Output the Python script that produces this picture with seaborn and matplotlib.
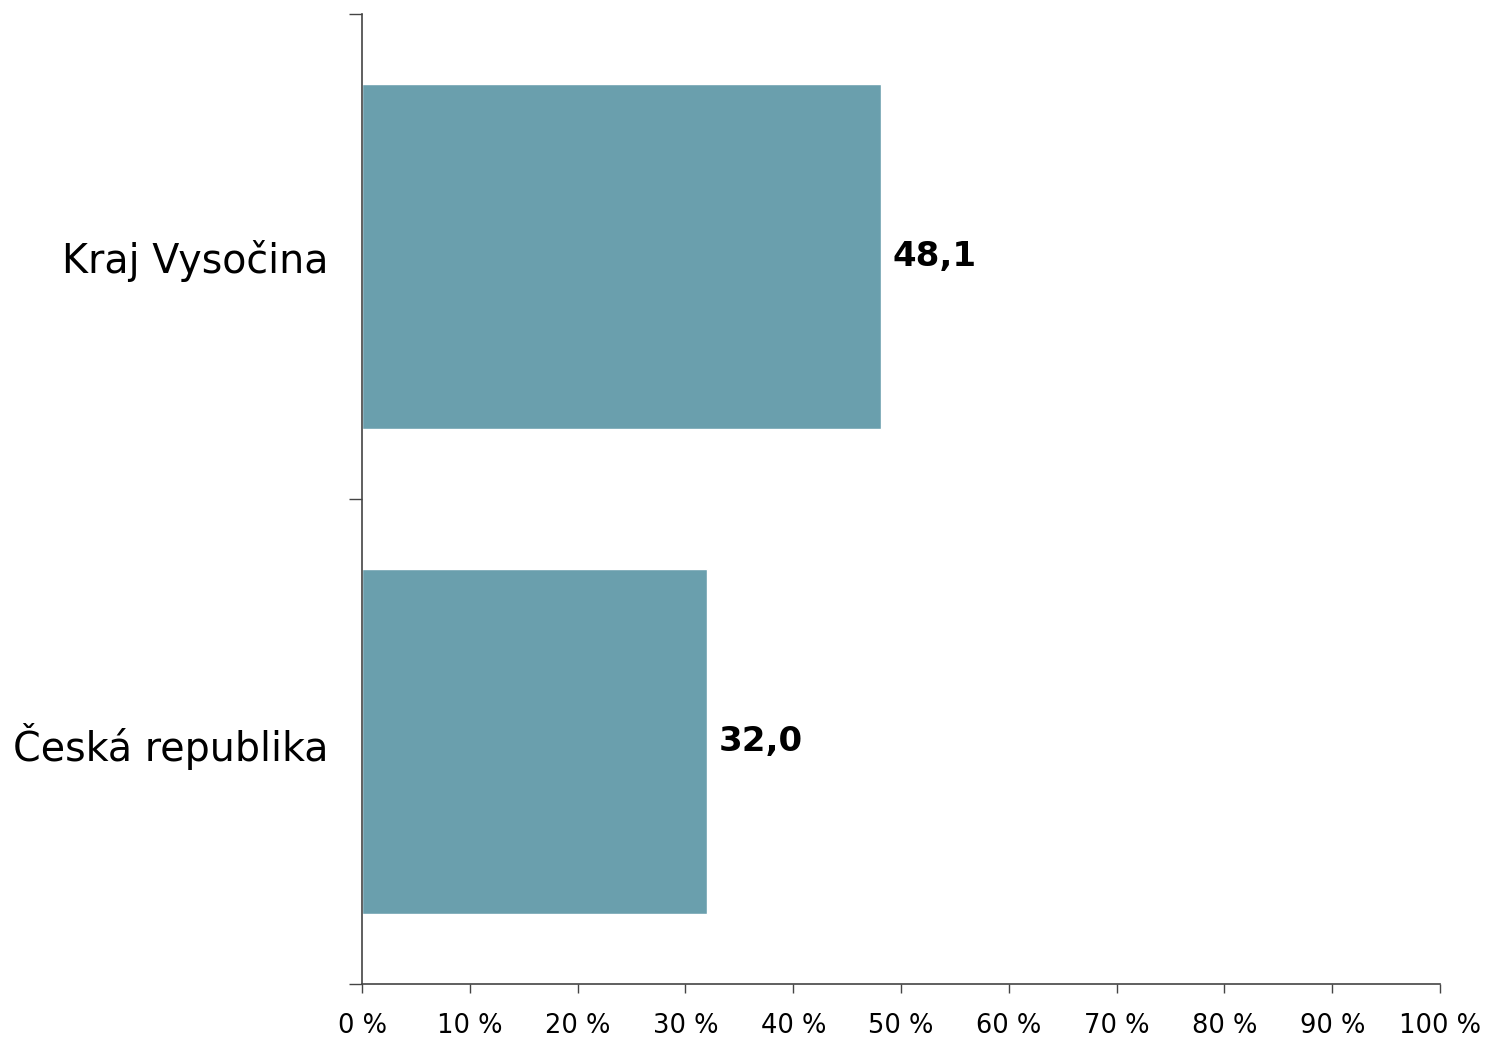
import matplotlib
matplotlib.use("Agg")
import matplotlib.pyplot as plt
import seaborn as sns
import pandas as pd
from matplotlib.ticker import FixedLocator

categories = ["Kraj Vysočina", "Česká republika"]
values = [48.1, 32.0]
value_labels = ["48,1", "32,0"]
xtick_values = [0, 10, 20, 30, 40, 50, 60, 70, 80, 90, 100]
xtick_labels = [f"{v} %" for v in xtick_values]

sns.set_style("white")
plt.rcParams["font.family"] = ["DejaVu Sans"]

df = pd.DataFrame({"cat": categories, "val": values})

fig = plt.figure(figsize=(14.88, 10.38), dpi=100)
ax = fig.add_axes([362/1488, 1-984/1038, (1440-362)/1488, (984-14)/1038])

sns.barplot(data=df, x="val", y="cat", orient="h", color="#6A9FAD",
            saturation=1, width=0.71, ax=ax)

ax.set_xlim(0, 100)
ax.set_ylim(1.5, -0.5)
ax.set_xticks(xtick_values)
ax.set_xticklabels(xtick_labels, fontsize=18.5, color="black")
ax.tick_params(axis="x", direction="out", length=6.5, width=1, color="#444444", pad=14.5, bottom=True)
ax.tick_params(axis="y", which="major", length=0, pad=24, labelsize=28.5, labelcolor="black")
ax.yaxis.set_minor_locator(FixedLocator([-0.5, 0.5, 1.5]))
ax.tick_params(axis="y", which="minor", direction="out", length=9.5, width=1, color="#444444", left=True)
ax.set_xlabel("")
ax.set_ylabel("")

for s in ["top", "right"]:
    ax.spines[s].set_visible(False)
for s in ["left", "bottom"]:
    ax.spines[s].set_color("#444444")
    ax.spines[s].set_linewidth(1.2)

for i, (v, lab) in enumerate(zip(values, value_labels)):
    ax.text(v + 1.1, i, lab, va="center", ha="left", fontsize=24.5, fontweight="bold", color="black")

fig.savefig("out.png", dpi=100)
